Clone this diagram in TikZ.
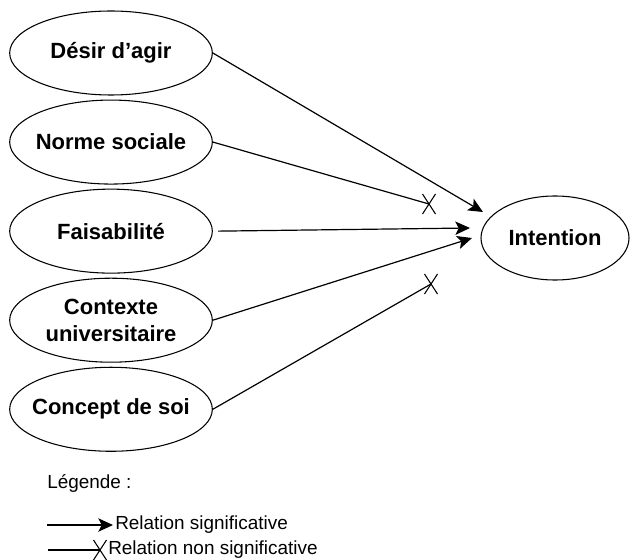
\documentclass[tikz,border=0pt]{standalone}
\usepackage{fontspec}
\setmainfont{Liberation Sans}
\usetikzlibrary{arrows.meta,positioning,shapes.geometric}

\begin{document}
\begin{tikzpicture}[
        x=0.75pt, y=-0.75pt,
        node distance=3pt,
        cause/.style={draw, ellipse, line width=0.8pt, inner xsep=-15pt, inner ysep=0pt, minimum width=152pt, minimum height=63pt, align=center, font=\bfseries\fontsize{16.5}{20}\selectfont},
        sig/.style={-{Stealth[length=11pt,width=10pt,inset=2.5pt]}, line width=0.9pt},
        nonsig/.style={line width=0.9pt},
        legend/.style={anchor=west, inner sep=0pt, font=\fontsize{14.2}{17}\selectfont},
        croix/.pic={\draw[line width=0.8pt] (-6.5,-10) -- (6.5,10) (-6.5,10) -- (6.5,-10);}
    ]
        \useasboundingbox (0,0) rectangle (630,559);

        \node[cause] (desir) at (111,53) {Désir d’agir};
        \node[cause, below=of desir] (norme) {Norme sociale};
        \node[cause, below=of norme] (faisab) {Faisabilité};
        \node[cause, below=of faisab] (contexte) {Contexte\\universitaire};
        \node[cause, below=of contexte] (concept) {Concept de soi};
        \node[cause, minimum width=111pt] (intention) at (555,238) {Intention};

        \coordinate (pA) at (483,212);
        \coordinate (xB) at (429,204);
        \coordinate (pC) at (470,228);
        \coordinate (pD) at (472,238);
        \coordinate (xE) at (431,284);

        \draw[sig] (desir.east) -- (pA);
        \draw[nonsig] (norme.east) -- (xB) pic {croix};
        \draw[sig] ([xshift=4pt]faisab.east) -- (pC);
        \draw[sig] (contexte.east) -- (pD);
        \draw[nonsig] (concept.east) -- (xE) pic {croix};

        \node[legend] (legende) at (47,483) {Légende :};
        \node[legend] (lsig) at (115,525) {Relation significative};
        \node[legend] (lnon) at (108,550) {Relation non significative};
        \coordinate (s0) at (47,525);
        \coordinate (n0) at (48,550);
        \draw[sig] (s0) -- ([xshift=-1.5pt]lsig.west);
        \draw[nonsig] (n0) -- ([xshift=-6pt]lnon.west) pic {croix};
    \end{tikzpicture}
\end{document}
